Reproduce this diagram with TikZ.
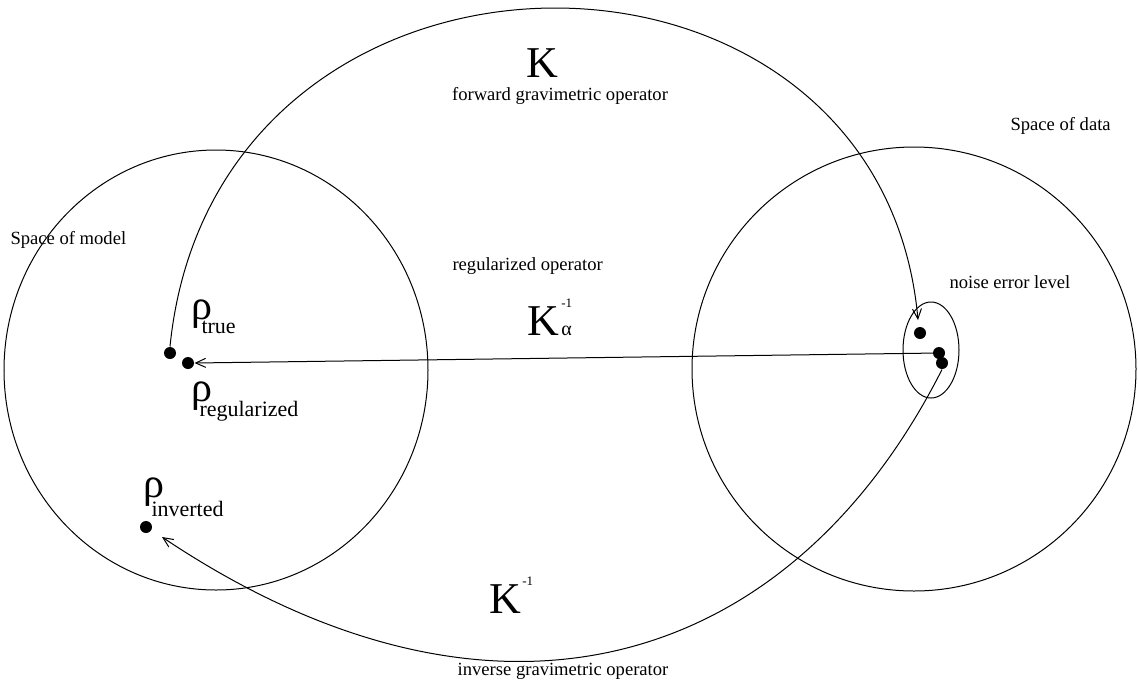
\documentclass[tikz,border=0pt]{standalone}
\usepackage{fontspec}
\setmainfont{Liberation Serif}
\usetikzlibrary{arrows.meta}
\newcommand{\bigK}{\fontsize{44}{46}\selectfont K}
\newcommand{\rhosym}{\makebox[0pt][l]{\fontsize{42}{44}\selectfont ρ}}
\newcommand{\subtxt}[2]{\raisebox{#1}{\fontsize{22}{24}\selectfont #2}}
\newcommand{\suptxt}[1]{\raisebox{#1}{\fontsize{13}{14}\selectfont -1}}
\begin{document}
\begin{tikzpicture}[x=1pt,y=-1pt,
  line width=1pt,
  dot/.style={circle,fill,inner sep=0,minimum size=12pt},
  lbl/.style={font=\fontsize{18.6}{20}\selectfont,inner sep=0},
  sym/.style={inner sep=0,anchor=base west},
  arr/.style={-{Straight Barb[length=10pt,width=9pt,line width=1pt]}},
]
\useasboundingbox (0,0) rectangle (1138,689);
% spaces
\draw (216,370) ellipse [x radius=212, y radius=220];
\draw (914,369) ellipse [x radius=222, y radius=222];
\draw (931,350) ellipse [x radius=28, y radius=48];
% dots
\node[dot] (true) at (170,353) {};
\node[dot] (reg) at (188,363) {};
\node[dot] (inv) at (146,527) {};
\node[dot] (n1) at (920,333) {};
\node[dot] (n2) at (939,353) {};
\node[dot] (n3) at (942,363) {};
\coordinate (invtip) at (162,537);
\coordinate (n1tip) at (918,320);
% connectors
\draw[arr] (true.north) .. controls (215,-100) and (880,-100) .. (n1tip);
\draw[arr] (n2.center) -- (reg.east);
\draw[arr] (n3.south) .. controls (790,670) and (495,760) .. (invtip);
% labels
\node[lbl,anchor=base west] (lmodel) at (10,244) {Space of model};
\node[lbl,anchor=base west] (ldata) at (1010,130) {Space of data};
\node[sym,anchor=base] (kfwd) at (542,77) {\bigK};
\node[lbl,anchor=base] (lfwd) at (560,100) {forward gravimetric operator};
\node[lbl,anchor=base west] (lreg) at (452,270) {regularized operator};
\node[sym] (kreg) at (527,335) {\bigK\kern2pt\makebox[0pt][l]{\suptxt{28pt}}{\fontsize{20}{22}\selectfont α}};
\node[lbl,anchor=base west] (lnoise) at (949,288) {noise error level};
\node[sym] (kinv) at (489,613) {\bigK\kern1pt\suptxt{28pt}};
\node[lbl,anchor=base] (linv) at (563,675) {inverse gravimetric operator};
\node[sym] (rtrue) at (191,319) {\rhosym\kern10pt\subtxt{-14pt}{true}};
\node[sym] (rreg) at (191,401) {\rhosym\kern8pt\subtxt{-15pt}{regularized}};
\node[sym] (rinv) at (143,497) {\rhosym\kern8pt\subtxt{-19pt}{inverted}};
\end{tikzpicture}
\end{document}
